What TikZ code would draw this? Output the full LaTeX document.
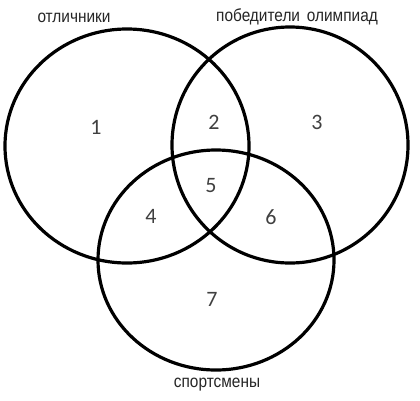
\documentclass[tikz,border=0pt]{standalone}
\usepackage{fontspec}
\setmainfont{Liberation Sans}
\newfontfamily\digitfont{Carlito}
\begin{document}
\begin{tikzpicture}[x=1pt,y=-1pt,
  ring/.style={line width=3.2pt,black},
  setlabel/.style={font=\fontsize{17.5}{20}\selectfont,inner sep=0pt,xscale=0.88,text=black!85},
  region/.style={font=\digitfont\fontsize{22}{25}\selectfont,inner sep=0pt,text=black!75}]
\useasboundingbox[fill=white] (0,0) rectangle (420,400);
\draw[ring] (127,146) ellipse [x radius=122, y radius=117];
\draw[ring] (290,145) ellipse [x radius=118, y radius=118];
\draw[ring] (216,260) ellipse [x radius=118, y radius=110];
\node[setlabel] (lA) at (74,18) {отличники};
\node[setlabel] (lB) at (297,17) {победители\, олимпиад};
\node[setlabel] (lC) at (217,385) {спортсмены};
\node[region] (r1) at (96,127) {1};
\node[region] (r2) at (214,122) {2};
\node[region] (r3) at (317,122) {3};
\node[region] (r4) at (151,216) {4};
\node[region] (r5) at (211,186) {5};
\node[region] (r6) at (271,217) {6};
\node[region] (r7) at (212,299) {7};
\end{tikzpicture}
\end{document}
